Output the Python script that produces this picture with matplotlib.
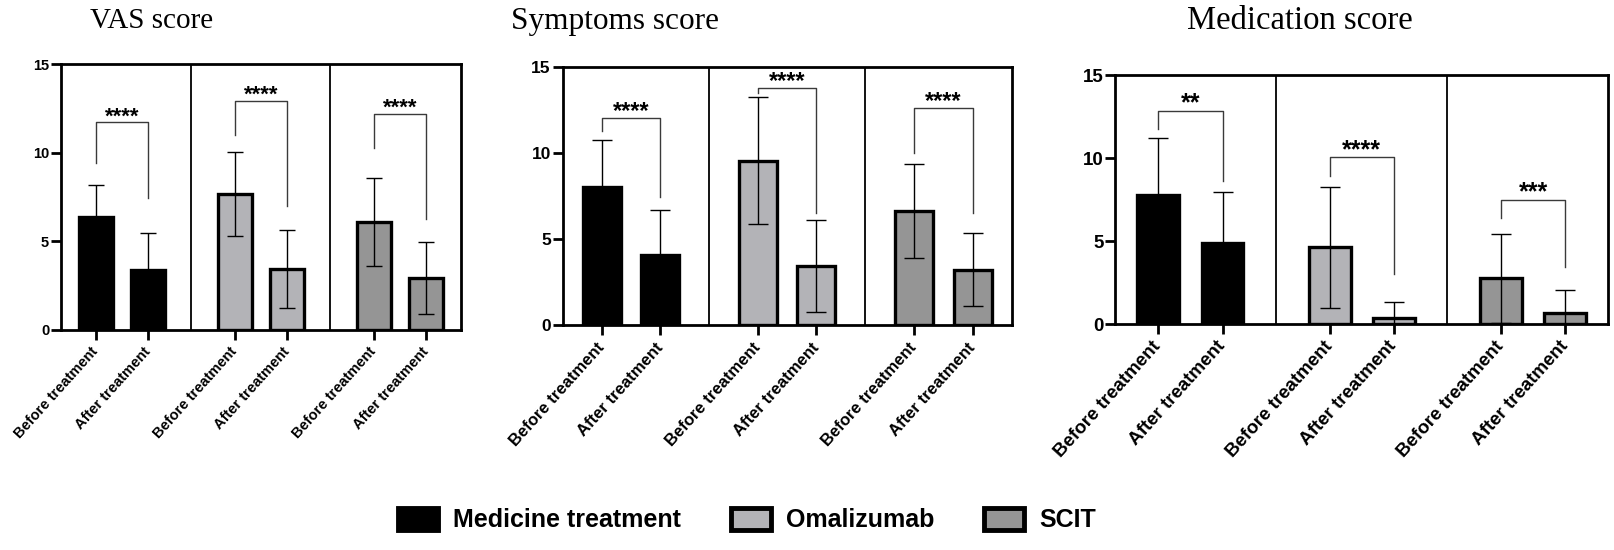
import matplotlib
matplotlib.use('Agg')
import matplotlib.pyplot as plt
from matplotlib.patches import Patch

# ---------------- data ----------------
groups = ['Medicine treatment', 'Omalizumab', 'SCIT']
conditions = ['Before treatment', 'After treatment']
titles = ['VAS score', 'Symptoms score', 'Medication score']

vas_mean = [6.33, 3.38, 7.65, 3.40, 6.06, 2.91]
vas_sd = [1.85, 2.08, 2.37, 2.21, 2.50, 2.03]
vas_bracket_y = [11.71, 12.92, 12.19]
vas_bracket_left = [9.43, 10.98, 10.26]
vas_bracket_right = [7.44, 6.95, 6.22]
vas_stars = ['****', '****', '****']

sym_mean = [8.04, 4.11, 9.56, 3.47, 6.63, 3.24]
sym_sd = [2.72, 2.60, 3.66, 2.67, 2.72, 2.12]
sym_bracket_y = [12.05, 13.78, 12.63]
sym_bracket_left = [11.28, 13.46, 9.99]
sym_bracket_right = [7.44, 6.52, 6.52]
sym_stars = ['****', '****', '****']

med_mean = [7.80, 4.86, 4.62, 0.34, 2.76, 0.64]
med_sd = [3.40, 3.10, 3.65, 0.98, 2.68, 1.38]
med_bracket_y = [12.86, 10.04, 7.50]
med_bracket_left = [11.74, 8.94, 6.40]
med_bracket_right = [8.60, 3.04, 3.46]
med_stars = ['**', '****', '***']

y_ticks = [0, 5, 10, 15]

# ---------------- style ----------------
fills = ['#000000', '#b3b3b7', '#959595']
sans = ['Liberation Sans', 'DejaVu Sans']
serif = ['Liberation Serif', 'DejaVu Serif']

panels = [
    dict(mean=vas_mean, sd=vas_sd, by=vas_bracket_y, bl=vas_bracket_left,
         br=vas_bracket_right, stars=vas_stars,
         rect=[0.03777, 0.4009, 0.2475, 0.4827], ytick_fs=10.5, xtick_fs=10.5,
         star_fs=16, cap=5.5, title_x=152, title_fs=21),
    dict(mean=sym_mean, sd=sym_sd, by=sym_bracket_y, bl=sym_bracket_left,
         br=sym_bracket_right, stars=sym_stars,
         rect=[0.3484, 0.4082, 0.2780, 0.4705], ytick_fs=12.5, xtick_fs=12,
         star_fs=17, cap=7, title_x=615, title_fs=22.5),
    dict(mean=med_mean, sd=med_sd, by=med_bracket_y, bl=med_bracket_left,
         br=med_bracket_right, stars=med_stars,
         rect=[0.6907, 0.4109, 0.3050, 0.4527], ytick_fs=13.5, xtick_fs=13.5,
         star_fs=18, cap=7.5, title_x=1300, title_fs=23.5),
]

W, H = 1615, 550
fig = plt.figure(figsize=(W / 100, H / 100), dpi=100)

G = 8.0 / 3.0  # group spacing
for p, title in zip(panels, titles):
    ax = fig.add_axes(p['rect'])
    xs = [g * G + j for g in range(3) for j in range(2)]
    cols = [fills[g] for g in range(3) for j in range(2)]
    ax.bar(xs, p['mean'], width=0.65, color=cols, edgecolor='black',
           linewidth=2.4, zorder=2)
    ax.errorbar(xs, p['mean'], yerr=[p['sd'], p['sd']], fmt='none',
                ecolor='black', elinewidth=1.0, capsize=p['cap'],
                capthick=1.0, zorder=3)
    # group dividers
    for g in range(2):
        ax.axvline((g * G + 1 + (g + 1) * G) / 2, color='black', lw=1.3,
                   zorder=1)
    # significance brackets
    for g in range(3):
        xl, xr = g * G, g * G + 1
        y = p['by'][g]
        ax.plot([xl, xl, xr, xr], [p['bl'][g], y, y, p['br'][g]],
                color='#3a3a3a', lw=1.0, zorder=4)
        ax.annotate(p['stars'][g], xy=((xl + xr) / 2, y), xytext=(0, 0),
                    textcoords='offset points', ha='center', va='baseline',
                    fontsize=p['star_fs'], fontweight='bold', family=sans)
    ax.set_xlim(-2.0 / 3.0, 7.0)
    ax.set_ylim(0, 15)
    ax.set_yticks(y_ticks)
    ax.set_yticklabels([str(t) for t in y_ticks], fontsize=p['ytick_fs'],
                       fontweight='bold', family=sans)
    ax.set_xticks(xs)
    ax.set_xticklabels(conditions * 3, rotation=48, ha='right',
                       va='center', rotation_mode='anchor',
                       fontsize=p['xtick_fs'], fontweight='bold', family=sans)
    ax.tick_params(axis='both', direction='out', length=7, width=2,
                   color='black')
    ax.tick_params(axis='y', pad=1.5)
    ax.tick_params(axis='x', pad=7)
    for s in ax.spines.values():
        s.set_linewidth(2.0)
        s.set_color('black')
    fig.text(p['title_x'] / W, 1 - 21 / H, title, ha='center', va='center',
             fontsize=p['title_fs'], family=serif)

handles = [Patch(facecolor=c, edgecolor='black', linewidth=3.5) for c in fills]
fig.legend(handles, groups, loc='center', bbox_to_anchor=(747 / W, 1 - 520 / H),
           ncol=3, frameon=False,
           prop={'family': sans, 'weight': 'bold', 'size': 18},
           handlelength=1.6, handleheight=1.0, handletextpad=0.6,
           columnspacing=2.0)

fig.savefig('out.png', dpi=100)
